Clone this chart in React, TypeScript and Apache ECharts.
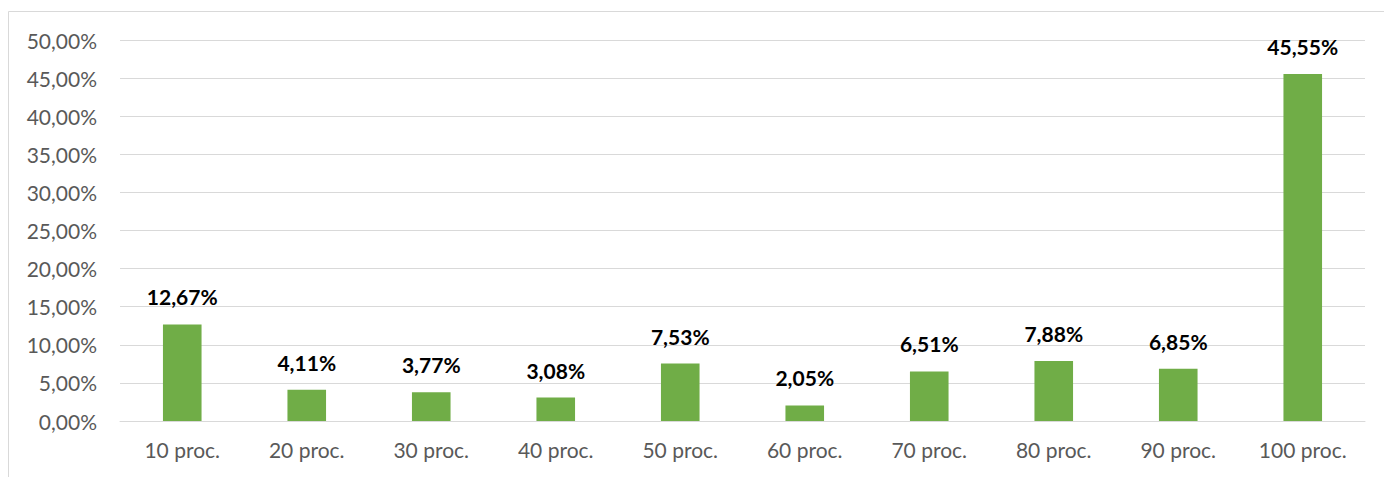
import React, { useEffect, useRef } from "react";
import * as echarts from "echarts";

const categories = ["10 proc.", "20 proc.", "30 proc.", "40 proc.", "50 proc.", "60 proc.", "70 proc.", "80 proc.", "90 proc.", "100 proc."];
const values = [12.67, 4.11, 3.77, 3.08, 7.53, 2.05, 6.51, 7.88, 6.85, 45.55];

const fmt = (v: number) => v.toFixed(2).replace(".", ",") + "%";

export default function App() {
  const ref = useRef<HTMLDivElement>(null);
  useEffect(() => {
    document.body.style.margin = "0";
    const chart = echarts.init(ref.current!, null, { renderer: "svg" });
    chart.setOption({
      animation: false,
      backgroundColor: "#ffffff",
      textStyle: { fontFamily: "Lato" },
      graphic: [
        {
          type: "rect",
          shape: { x: 8.5, y: 11.5, width: 1400, height: 500 },
          style: { fill: "none", stroke: "#D9D9D9", lineWidth: 1 },
          silent: true,
        },
      ],
      grid: { left: 120, right: 19, top: 40, bottom: 56 },
      xAxis: {
        type: "category",
        data: categories,
        axisLine: { show: true, lineStyle: { color: "#D9D9D9", width: 1 } },
        axisTick: { show: false },
        axisLabel: { color: "#595959", fontSize: 21, margin: 18, fontFamily: "Lato" },
      },
      yAxis: {
        type: "value",
        min: 0,
        max: 50,
        interval: 5,
        axisLine: { show: false },
        axisTick: { show: false },
        splitLine: { lineStyle: { color: "#D9D9D9", width: 1 } },
        axisLabel: { color: "#595959", fontSize: 21, margin: 23, fontFamily: "Lato", formatter: (v: number) => fmt(v) },
      },
      series: [
        {
          type: "bar",
          data: values,
          barWidth: "31%",
          itemStyle: { color: "#70AD47" },
          label: {
            show: true,
            position: "top",
            distance: 17,
            color: "#000000",
            fontSize: 21,
            fontWeight: "bold",
            fontFamily: "Lato",
            formatter: (p: any) => fmt(p.value),
          },
        },
      ],
    });
    return () => chart.dispose();
  }, []);
  return <div ref={ref} style={{ width: 1384, height: 477 }} />;
}
